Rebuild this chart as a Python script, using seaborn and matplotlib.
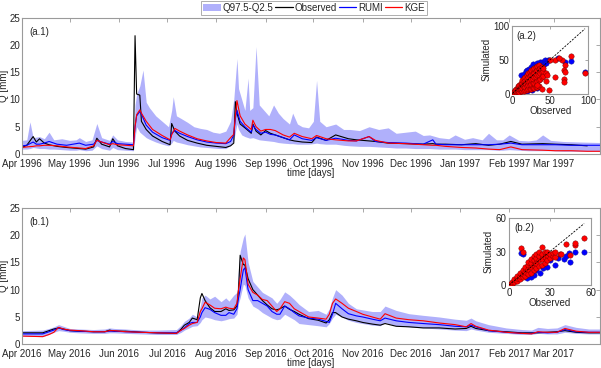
import numpy as np
import pandas as pd
import seaborn as sns
import matplotlib
matplotlib.use('Agg')
import matplotlib.pyplot as plt
import matplotlib.dates as mdates
from matplotlib.patches import Patch
from matplotlib.lines import Line2D

# ---------------- panel (a.1): Apr 1996 - Mar 1997 ----------------
start_a = '1996-04-01'
days_a = [0, 3, 7, 9, 11, 14, 17, 22, 28, 36, 40, 45, 47, 50, 55, 57, 60, 65, 70, 71,
          72, 74, 75, 78, 82, 88, 93, 94, 96, 99, 104, 110, 116, 122, 128, 131, 133, 134, 135, 137,
          140, 142, 144, 145, 147, 150, 153, 156, 159, 164, 168, 171, 176, 182, 185, 191, 197, 205, 210, 218,
          222, 230, 241, 252, 258, 260, 266, 276, 285, 293, 300, 307, 314, 327, 335, 345, 355, 364]
obs_a = [1.2, 1.6, 3.2, 2.2, 2.8, 2.0, 1.7, 1.4, 1.2, 1.0, 0.9, 1.3, 2.9, 1.8, 1.3, 2.8, 1.5, 1.0, 0.8, 21.7,
         11.0, 10.8, 6.0, 4.5, 3.3, 2.3, 1.7, 5.6, 4.2, 3.3, 2.5, 2.0, 1.6, 1.4, 1.2, 1.5, 2.0, 9.6, 7.5, 5.5,
         4.8, 4.3, 3.8, 5.5, 4.2, 3.5, 4.3, 3.8, 3.5, 3.0, 2.6, 2.4, 2.2, 2.1, 3.1, 2.5, 3.5, 2.8, 2.6, 2.4,
         2.3, 2.0, 1.9, 1.8, 1.9, 1.8, 1.8, 1.7, 1.9, 1.6, 1.8, 2.3, 1.8, 1.9, 1.8, 1.7, 1.5, np.nan]
rumi_a = [1.5, 1.6, 2.2, 1.8, 1.8, 2.0, 2.3, 1.8, 1.6, 2.0, 1.6, 1.8, 2.5, 2.2, 1.8, 2.3, 1.9, 1.8, 1.7, 5.0,
          7.0, 7.8, 7.3, 5.3, 4.0, 3.0, 2.5, 3.8, 4.3, 3.8, 3.2, 2.6, 2.2, 2.0, 1.9, 2.3, 3.5, 6.5, 8.0, 6.0,
          5.0, 4.5, 4.0, 5.3, 4.5, 3.8, 4.0, 3.6, 3.5, 3.0, 2.6, 3.5, 2.8, 2.5, 3.0, 2.5, 2.9, 2.5, 2.4, 3.2,
          2.3, 2.1, 2.0, 1.8, 2.6, 1.8, 1.7, 1.7, 1.7, 1.7, 1.8, 2.0, 1.7, 1.7, 1.7, 1.6, 1.6, 1.6]
kge_a = [1.2, 1.3, 1.4, 1.5, 1.5, 1.6, 1.6, 1.5, 1.3, 1.1, 1.0, 1.5, 2.5, 2.2, 1.7, 1.9, 1.7, 1.6, 1.5, 5.0,
         7.2, 8.1, 7.5, 6.0, 4.5, 3.4, 2.6, 3.5, 4.7, 4.2, 3.5, 2.8, 2.4, 2.1, 2.0, 3.0, 3.6, 7.0, 9.8, 7.0,
         5.5, 5.0, 4.5, 6.2, 5.0, 4.2, 4.5, 4.5, 4.3, 3.5, 3.1, 3.8, 3.2, 2.8, 3.4, 2.8, 2.6, 2.4, 2.4, 3.2,
         2.5, 2.0, 1.9, 1.7, 1.6, 1.6, 1.4, 1.2, 1.1, 0.9, 0.8, 1.3, 0.8, 0.7, 0.6, 0.6, 0.5, 0.5]

band_days_a = [0, 3, 5, 7, 11, 14, 17, 20, 25, 30, 34, 36, 40, 44, 47, 50, 55, 57, 60, 65,
               70, 71, 72, 74, 76, 78, 80, 84, 88, 92, 94, 95, 97, 100, 104, 108, 112, 116, 120, 124,
               128, 131, 133, 135, 136, 138, 140, 142, 143, 145, 147, 149, 152, 155, 158, 161, 164, 168, 170, 173,
               176, 180, 183, 185, 187, 191, 197, 202, 206, 212, 218, 224, 230, 235, 241, 247, 252, 256, 262, 268,
               272, 278, 283, 289, 293, 298, 302, 306, 312, 318, 323, 327, 332, 340, 350, 364]
q025_a = [0.9, 0.9, 1.0, 1.2, 1.0, 1.0, 0.9, 0.9, 0.8, 0.7, 0.7, 0.8, 0.6, 0.7, 1.5, 1.0, 0.7, 1.2, 0.8, 0.7,
          0.6, 3.0, 5.0, 4.0, 3.5, 3.0, 2.7, 2.2, 1.8, 1.5, 2.0, 2.5, 2.2, 2.0, 1.7, 1.5, 1.3, 1.2, 1.1, 1.0,
          1.0, 1.6, 2.5, 5.5, 4.5, 3.5, 3.2, 3.0, 2.9, 3.0, 2.8, 2.6, 2.5, 2.4, 2.3, 2.1, 2.0, 1.9, 1.9, 1.8,
          1.8, 1.8, 1.9, 2.0, 1.9, 1.8, 1.8, 1.6, 1.5, 1.4, 1.4, 1.3, 1.2, 1.1, 1.1, 1.0, 1.0, 1.0, 0.9, 0.9,
          0.9, 0.8, 0.8, 0.8, 0.8, 0.7, 0.7, 0.8, 0.7, 0.6, 0.6, 0.6, 0.6, 0.5, 0.5, 0.5]
q975_a = [2.5, 2.6, 5.9, 3.0, 3.2, 2.8, 4.0, 2.6, 2.8, 2.5, 2.6, 3.0, 2.3, 2.6, 5.6, 3.0, 2.5, 3.5, 2.6, 2.3,
          2.2, 9.0, 11.0, 12.5, 15.4, 9.5, 8.5, 7.0, 6.0, 5.0, 8.0, 10.5, 7.0, 6.5, 5.8, 5.0, 4.7, 4.5, 4.0, 3.8,
          4.2, 6.0, 10.0, 17.5, 12.0, 10.0, 8.0, 13.9, 8.0, 8.5, 19.7, 9.0, 8.0, 7.0, 9.0, 7.5, 6.5, 5.5, 7.5, 5.5,
          5.0, 4.8, 6.0, 13.5, 6.0, 5.0, 5.5, 4.5, 4.5, 4.3, 5.0, 4.5, 4.8, 3.8, 4.0, 4.2, 3.4, 3.5, 3.0, 2.8,
          3.5, 2.7, 3.0, 2.6, 3.8, 2.6, 2.6, 3.5, 2.5, 2.4, 2.6, 3.5, 2.5, 2.3, 2.2, 2.1]

# ---------------- panel (b.1): Apr 2016 - Mar 2017 ----------------
start_b = '2016-04-01'
days_b = [0, 13, 17, 20, 23, 26, 30, 36, 45, 52, 55, 58, 65, 75, 85, 97, 100, 102, 105, 107,
          110, 112, 113, 115, 118, 121, 125, 128, 130, 133, 135, 136, 137, 139, 140, 142, 145, 148, 151, 154,
          157, 160, 162, 165, 168, 171, 174, 180, 186, 191, 193, 195, 197, 201, 205, 210, 214, 220, 225, 228,
          235, 243, 252, 262, 272, 279, 282, 285, 293, 304, 314, 320, 324, 330, 336, 341, 348, 356, 364]
obs_b = [2.1, 2.1, 2.5, 2.8, 3.0, 2.8, 2.5, 2.4, 2.3, 2.3, 2.6, 2.4, 2.4, 2.2, 2.1, 2.0, 2.8, 3.5, 4.0, 4.8,
         4.5, 8.5, 9.3, 8.0, 6.7, 6.0, 6.0, 6.5, 6.2, 6.3, 7.0, 10.0, 16.3, 14.6, 14.5, 12.0, 10.0, 9.0, 8.0, 7.2,
         6.5, 6.3, 6.5, 7.0, 6.4, 6.0, 5.5, 4.7, 4.4, 3.9, 4.5, 5.8, 5.8, 5.0, 4.6, 4.3, 4.0, 3.7, 3.5, 3.8,
         3.3, 3.2, 3.0, 3.0, 2.8, 2.9, 3.3, 2.9, 2.5, 2.3, 2.1, 2.1, 2.1, 2.2, 2.3, 2.5, 2.2, 2.1, 2.1]
rumi_b = [1.9, 1.9, 2.3, 2.6, 3.0, 2.7, 2.5, 2.4, 2.3, 2.3, 2.4, 2.4, 2.3, 2.2, 2.1, 2.1, 2.6, 3.0, 3.8, 4.0,
          4.0, 5.0, 5.8, 6.7, 6.4, 5.8, 5.3, 5.3, 5.8, 5.5, 6.5, 8.5, 10.0, 13.6, 14.0, 10.0, 8.0, 8.0, 7.5, 7.0,
          6.0, 5.5, 5.5, 7.0, 6.5, 5.8, 5.2, 4.8, 4.6, 4.2, 4.0, 5.5, 7.5, 6.5, 5.6, 5.2, 5.0, 4.6, 4.3, 4.8,
          4.3, 4.0, 3.8, 3.6, 3.3, 3.2, 3.5, 3.2, 2.5, 2.2, 2.0, 2.0, 2.2, 2.1, 2.2, 2.7, 2.3, 2.2, 2.2]
kge_b = [1.5, 1.4, 1.8, 2.2, 3.1, 2.8, 2.6, 2.5, 2.3, 2.3, 2.5, 2.5, 2.3, 2.2, 2.1, 2.0, 2.6, 2.9, 3.5, 3.8,
         4.0, 6.0, 6.5, 7.7, 7.2, 6.6, 6.5, 6.8, 6.6, 6.5, 7.5, 10.0, 12.0, 15.8, 15.5, 11.0, 9.5, 9.0, 8.2, 8.0,
         7.0, 6.0, 6.5, 7.8, 7.5, 6.5, 6.0, 5.0, 4.8, 4.6, 5.5, 7.5, 8.3, 7.5, 6.6, 6.0, 5.5, 5.0, 4.6, 5.6,
         4.8, 4.5, 4.3, 3.9, 3.6, 3.2, 3.8, 3.3, 2.6, 2.2, 2.0, 1.9, 2.3, 2.2, 2.2, 2.9, 2.4, 2.2, 2.2]
q025_b = [1.5, 1.4, 1.8, 2.2, 2.5, 2.4, 2.2, 2.1, 2.0, 2.0, 2.1, 2.1, 2.0, 1.9, 1.8, 1.8, 2.2, 2.6, 3.0, 3.3,
          3.4, 4.0, 4.5, 5.0, 4.8, 4.5, 4.3, 4.5, 4.7, 4.8, 5.5, 7.5, 8.5, 11.0, 10.8, 8.5, 7.0, 6.5, 5.8, 5.3,
          4.8, 4.5, 4.6, 5.5, 5.0, 4.5, 3.8, 3.6, 3.4, 3.2, 3.8, 4.8, 5.5, 5.0, 4.4, 4.0, 3.8, 3.5, 3.4, 4.0,
          3.4, 3.2, 3.0, 2.8, 2.6, 2.5, 2.8, 2.6, 2.2, 2.0, 1.8, 1.8, 2.0, 1.9, 1.9, 2.2, 2.0, 1.9, 1.9]
q975_b = [2.5, 2.6, 2.9, 3.2, 3.6, 3.3, 2.9, 2.8, 2.7, 2.8, 3.0, 2.9, 2.8, 2.6, 2.6, 2.7, 3.5, 4.2, 4.8, 5.5,
          5.0, 7.0, 8.5, 9.0, 8.3, 8.8, 7.8, 8.5, 7.9, 9.0, 9.5, 14.0, 17.0, 19.5, 20.2, 15.0, 11.5, 10.5, 9.5, 9.0,
          8.5, 7.5, 8.2, 9.6, 9.0, 8.2, 7.3, 6.0, 6.2, 5.5, 6.5, 8.5, 10.0, 9.0, 7.5, 6.5, 6.3, 6.0, 6.0, 7.0,
          6.2, 5.6, 5.3, 5.0, 4.6, 4.4, 4.8, 4.3, 3.6, 3.0, 2.7, 2.6, 3.1, 2.9, 3.0, 3.6, 3.1, 2.8, 2.8]

# ---------------- scatter insets (observed vs simulated) ----------------
sc_a_rumi_obs = [12, 15, 18, 20, 22, 25, 28, 30, 32, 35, 36, 39, 40, 42, 43, 45, 47, 48,
                 60, 70, 77, 96, 20, 26, 33]
sc_a_rumi_sim = [27, 29, 33, 35, 37, 40, 44, 41, 45, 42, 46, 47, 43, 43, 50, 45, 49, 50,
                 52, 46, 48, 32, 3, 5, 8]
sc_a_kge_obs = [1, 1, 3, 3, 3, 5, 5, 5, 7, 7, 7, 7, 9, 9, 9, 9, 11, 11, 11, 11,
                13, 13, 13, 13, 13, 15, 15, 15, 15, 15, 17, 17, 17, 17, 17, 19, 19, 19, 19, 19,
                21, 21, 21, 21, 21, 23, 23, 23, 23, 23, 25, 25, 25, 25, 25, 27, 27, 27, 27, 27,
                29, 29, 29, 29, 29, 31, 31, 31, 31, 31, 33, 33, 33, 33, 33, 35, 35, 35, 35, 35,
                37, 37, 37, 39, 39, 39, 39, 41, 41, 41, 44, 44, 46, 48, 33,
                57, 65, 78, 69, 68, 70, 57, 68, 68, 96, 50, 62]
sc_a_kge_sim = [0.5, 1.5, 1, 3, 5, 1.5, 4, 7, 2, 5, 8, 11, 2.5, 6, 10, 13, 3, 7, 11, 15,
                3.5, 8, 12, 16, 20, 4, 9, 14, 19, 23, 5, 10, 15, 20, 25, 5, 11, 17, 23, 28,
                6, 12, 18, 24, 30, 6, 13, 19, 26, 32, 7, 14, 21, 28, 35, 8, 15, 22, 29, 36,
                8, 16, 24, 31, 38, 9, 17, 25, 33, 40, 10, 19, 27, 35, 41, 11, 20, 28, 36, 42,
                22, 30, 38, 7, 24, 32, 40, 26, 34, 38, 18, 30, 28, 5, 12,
                50, 50, 55, 42, 35, 32, 25, 22, 17, 30, 49, 52]
sc_b_rumi_obs = [9, 10, 13, 18, 23, 28, 34, 40, 45, 44, 48, 55, 30, 20, 25, 36, 16, 42]
sc_b_rumi_sim = [29, 28, 6, 9, 11, 16, 18, 23, 21, 29, 30, 30, 22, 13, 15, 24, 7, 26]
sc_b_kge_obs = [1, 2, 2, 4, 4, 6, 6, 6, 8, 8, 8, 10, 10, 10, 12, 12, 12,
                14, 14, 14, 14, 16, 16, 16, 16, 18, 18, 18, 18, 20, 20, 20, 20,
                22, 22, 22, 22, 24, 24, 24, 24, 26, 26, 26, 28, 28, 28, 30, 30, 32, 32, 34, 34, 37,
                9, 10, 42, 45, 48, 48, 55, 38]
sc_b_kge_sim = [1, 1, 3, 3, 5, 4, 6, 8, 5, 8, 11, 7, 10, 13, 8, 12, 16,
                10, 14, 18, 21, 11, 16, 20, 23, 13, 18, 22, 26, 15, 20, 24, 28,
                17, 22, 26, 30, 18, 23, 28, 34, 20, 25, 30, 22, 27, 30, 24, 28, 26, 29, 25, 30, 28,
                33, 30, 37, 27, 36, 38, 42, 28]

# ---------------- style ----------------
sns.set_style('white')
plt.rcParams['font.family'] = ['Liberation Sans', 'DejaVu Sans']
plt.rcParams['font.size'] = 7
SPINE = '#9a9a9a'
TXT = '#262626'
BAND = '#b0b0fb'
FS = 7

fig = plt.figure(figsize=(6.01, 3.68), dpi=100)


def style_axes(ax):
    for s in ax.spines.values():
        s.set_color(SPINE)
        s.set_linewidth(0.8)
    ax.tick_params(direction='in', length=3, width=0.6, color=SPINE, labelcolor=TXT,
                   labelsize=FS, top=True, right=True, pad=2)


def draw_series(ax, start, days, obs, rumi, kge, band_days, lo, hi, tag):
    t0 = pd.Timestamp(start)
    t = t0 + pd.to_timedelta(days, unit='D')
    tb = t0 + pd.to_timedelta(band_days, unit='D')
    ax.fill_between(tb, lo, hi, color=BAND, lw=0)
    df = pd.DataFrame({'time': t, 'Observed': obs, 'RUMI': rumi, 'KGE': kge})
    df = df.melt(id_vars='time', var_name='series', value_name='Q')
    sns.lineplot(data=df, x='time', y='Q', hue='series', hue_order=['Observed', 'RUMI', 'KGE'],
                 palette=['black', 'blue', 'red'], estimator=None, lw=0.8, legend=False, ax=ax)
    ax.set_xlim(t0, t0 + pd.Timedelta(days=363))
    ax.set_ylim(0, 25)
    ax.set_yticks([0, 5, 10, 15, 20, 25])
    ax.xaxis.set_major_locator(mdates.MonthLocator())
    ax.xaxis.set_major_formatter(mdates.DateFormatter('%b %Y'))
    ax.set_xlabel('time [days]', color=TXT, fontsize=FS)
    ax.xaxis.set_label_coords(0.5, -0.1)
    ax.set_ylabel('Q [mm]', color=TXT, fontsize=FS)
    ax.yaxis.set_label_coords(-0.023, 0.5)
    style_axes(ax)
    ax.tick_params(axis='y', pad=1.5)
    ax.tick_params(axis='x', pad=3.5)
    ax.text(0.012, 0.93, tag, transform=ax.transAxes, fontsize=FS, color=TXT, va='top')


def draw_scatter(ax, ro, rs, ko, ks, lim, ticks, tag):
    sns.scatterplot(x=ro, y=rs, color='blue', edgecolor='#1a1a8a', s=15, linewidth=0.3, ax=ax, zorder=2)
    sns.scatterplot(x=ko, y=ks, color='red', edgecolor='#6a0000', s=15, linewidth=0.3, ax=ax, zorder=3)
    m = max(max(ro), max(ko))
    ax.plot([0, m], [0, m], color='black', lw=0.6, ls=(0, (2.5, 1.5)), zorder=4)
    ax.set_xlim(0, lim)
    ax.set_ylim(0, lim)
    ax.set_xticks(ticks)
    ax.set_yticks(ticks)
    ax.set_xlabel('Observed', color=TXT, fontsize=FS, labelpad=0)
    ax.set_ylabel('Simulated', color=TXT, fontsize=FS, labelpad=1)
    style_axes(ax)
    ax.tick_params(length=2)
    ax.text(0.06, 0.93, tag, transform=ax.transAxes, fontsize=FS, color=TXT, va='top')


ax1 = fig.add_axes([0.0366, 0.5815, 0.9617, 0.3704])
draw_series(ax1, start_a, days_a, obs_a, rumi_a, kge_a, band_days_a, q025_a, q975_a, '(a.1)')
ax2 = fig.add_axes([0.0366, 0.0644, 0.9617, 0.3712])
draw_series(ax2, start_b, days_b, obs_b, rumi_b, kge_b, days_b, q025_b, q975_b, '(b.1)')

ins1 = fig.add_axes([0.8524, 0.7459, 0.126, 0.1834])
draw_scatter(ins1, sc_a_rumi_obs, sc_a_rumi_sim, sc_a_kge_obs, sc_a_kge_sim, 100, [0, 50, 100], '(a.2)')
ins2 = fig.add_axes([0.8469, 0.2255, 0.1364, 0.1821])
draw_scatter(ins2, sc_b_rumi_obs, sc_b_rumi_sim, sc_b_kge_obs, sc_b_kge_sim, 60, [0, 30, 60], '(b.2)')

handles = [Patch(facecolor=BAND, edgecolor='none', label='Q97.5-Q2.5'),
           Line2D([], [], color='black', lw=0.9, label='Observed'),
           Line2D([], [], color='blue', lw=0.9, label='RUMI'),
           Line2D([], [], color='red', lw=0.9, label='KGE')]
leg = fig.legend(handles=handles, loc='upper center', bbox_to_anchor=(0.5225, 0.998), ncol=4,
                 fontsize=FS, frameon=True, fancybox=False, handlelength=1.8, handletextpad=0.2,
                 columnspacing=0.2, borderpad=0.2, borderaxespad=0)
leg.get_frame().set_edgecolor(SPINE)
leg.get_frame().set_linewidth(0.7)
for txt in leg.get_texts():
    txt.set_color(TXT)

fig.savefig('out.png', dpi=100)
